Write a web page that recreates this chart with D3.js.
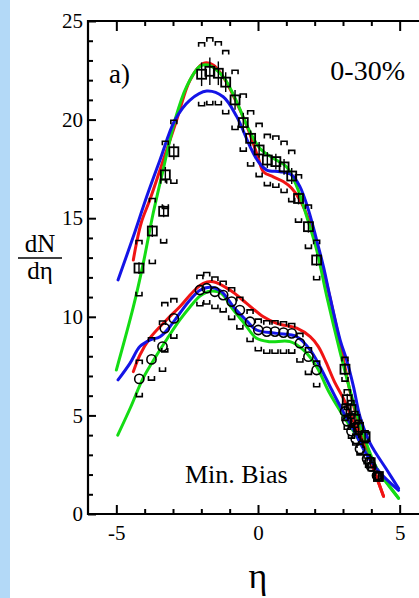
<!DOCTYPE html>
<html>
<head>
<meta charset="utf-8">
<script src="https://cdn.jsdelivr.net/npm/d3@7"></script>
<style>
  body { margin: 0; background: #fff; }
  svg { display: block; }
  svg text { font-family: "Liberation Serif", "Times New Roman", serif; }
</style>
</head>
<body>
<div id="chart"></div>
<script>
// 0-30% data (squares)
const sqX = [-4.2, -3.73, -3.33, -3.27, -2.97, -1.99, -1.70, -1.40, -1.14, -0.81, -0.52, -0.26, 0.04, 0.33, 0.63, 0.92, 1.19, 1.43, 1.78, 2.07, 3.07, 3.15, 3.28, 3.42, 3.55, 3.78, 3.96, 4.25];
const sqY = [12.47, 14.35, 15.35, 17.2, 18.37, 22.3, 22.45, 22.35, 21.9, 21.0, 19.85, 19.05, 18.46, 17.95, 17.87, 17.6, 17.14, 16.0, 14.57, 12.88, 7.34, 5.8, 5.3, 4.8, 4.4, 3.92, 2.6, 1.9];
const sqSys = [1.4, 1.65, 1.6, 1.7, 1.6, 1.6, 1.7, 1.6, 1.6, 1.5, 1.45, 1.4, 1.35, 1.3, 1.3, 1.3, 1.3, 1.2, 1.1, 1.0, 0.6, 0.5, 0.45, 0.4, 0.35, 0.3, 0.25, 0.2];
const sqStat = [0.3, 0.3, 0.3, 0.4, 0.4, 0.6, 0.7, 0.6, 0.5, 0.5, 0.5, 0.4, 0.4, 0.4, 0.4, 0.4, 0.4, 0.3, 0.3, 0.3, 0.3, 0.3, 0.3, 0.3, 0.3, 0.2, 0.2, 0.2];

// Min. Bias data (circles)
const mbX = [-4.19, -3.76, -3.37, -3.29, -2.97, -2.05, -1.81, -1.52, -1.23, -0.93, -0.64, -0.28, 0.01, 0.31, 0.6, 0.9, 1.19, 1.48, 1.78, 2.07, 3.07, 3.15, 3.3, 3.45, 3.6, 3.85, 4.0, 4.2];
const mbY = [6.85, 7.84, 8.49, 9.42, 9.92, 11.36, 11.45, 11.27, 11.1, 10.77, 10.34, 9.75, 9.33, 9.25, 9.25, 9.2, 9.16, 8.66, 7.98, 7.3, 5.2, 4.7, 4.2, 3.8, 3.3, 2.8, 2.4, 1.95];
const mbHi = [0.95, 1.1, 1.3, 1.3, 1.0, 0.75, 0.8, 0.75, 0.7, 0.7, 0.65, 0.6, 0.55, 0.55, 0.55, 0.55, 0.5, 0.5, 0.45, 0.45, 0.35, 0.3, 0.3, 0.25, 0.25, 0.2, 0.2, 0.15];
const mbLo = [0.9, 1.05, 1.25, 1.2, 1.0, 0.8, 0.8, 0.85, 0.85, 0.9, 0.95, 1.0, 1.05, 1.1, 1.1, 1.05, 1.0, 0.95, 0.9, 0.85, 0.45, 0.4, 0.35, 0.3, 0.3, 0.25, 0.2, 0.2];

// model curves, 0-30%
const red30X = [-4.4, -4.29, -4.11, -3.82, -3.46, -2.87, -2.4, -1.93, -1.58, -1.2, -0.8, -0.4, 0.0, 0.19, 0.54, 0.89, 1.19, 1.48, 1.84, 2.19, 2.6, 2.95, 3.3, 3.7, 4.1, 4.43];
const red30Y = [12.88, 13.73, 14.82, 15.92, 17.44, 19.98, 22.0, 22.85, 22.77, 22.1, 21.0, 19.7, 18.1, 17.36, 17.1, 16.86, 16.52, 15.92, 14.74, 13.05, 10.6, 8.3, 5.9, 3.9, 2.2, 0.9];
const green30X = [-5.0, -4.4, -4.05, -3.7, -3.35, -2.93, -2.52, -2.05, -1.76, -1.23, -0.75, -0.4, 0.07, 0.54, 1.01, 1.37, 1.72, 2.07, 2.43, 2.9, 3.3, 3.7, 4.2, 4.96];
const green30Y = [7.3, 10.5, 12.71, 15.25, 17.44, 19.98, 21.67, 22.7, 22.77, 22.18, 20.9, 19.73, 18.54, 18.04, 17.6, 16.6, 15.08, 13.39, 11.02, 8.2, 6.0, 4.1, 2.3, 0.8];
const blue30X = [-4.94, -4.4, -3.93, -3.46, -2.93, -2.4, -1.81, -1.23, -0.75, -0.28, 0.01, 0.31, 0.78, 1.19, 1.48, 1.78, 2.07, 2.31, 2.54, 2.9, 3.13, 3.37, 3.6, 3.96, 4.55, 4.96];
const blue30Y = [11.87, 14.07, 16.09, 17.95, 19.98, 20.99, 21.45, 21.16, 20.15, 18.63, 17.87, 17.44, 17.36, 17.19, 16.6, 15.42, 13.89, 12.54, 11.02, 8.82, 7.8, 6.46, 4.93, 3.58, 2.23, 1.3];

// model curves, Min. Bias
const redMbX = [-4.4, -4.17, -3.82, -3.23, -2.76, -2.29, -1.93, -1.58, -0.99, -0.4, 0.19, 0.66, 1.37, 1.84, 2.13, 2.4, 2.7, 3.0, 3.4, 3.8, 4.1, 4.43];
const redMbY = [7.22, 8.06, 8.91, 9.84, 10.51, 11.27, 11.7, 11.78, 11.36, 10.68, 10.0, 9.67, 9.42, 8.99, 8.49, 7.7, 6.7, 5.9, 4.6, 3.3, 2.2, 0.9];
const greenMbX = [-4.95, -4.5, -4.05, -3.6, -3.2, -2.76, -2.4, -2.05, -1.7, -1.3, -0.9, -0.5, -0.05, 0.42, 1.13, 1.6, 2.07, 2.5, 3.0, 3.5, 4.0, 4.5, 4.96];
const greenMbY = [4.0, 5.4, 6.9, 8.0, 8.9, 9.84, 10.5, 11.05, 11.3, 11.2, 10.4, 9.7, 8.91, 8.74, 8.74, 8.32, 7.47, 6.2, 5.0, 3.9, 2.7, 1.7, 0.8];
const blueMbX = [-4.94, -4.52, -4.17, -3.82, -3.46, -3.11, -2.76, -2.4, -2.05, -1.7, -1.3, -0.87, -0.4, -0.05, 0.66, 1.37, 1.84, 2.19, 2.6, 3.0, 3.4, 3.8, 4.3, 4.96];
const blueMbY = [6.8, 7.64, 8.49, 8.82, 8.99, 9.5, 10.18, 10.85, 11.35, 11.5, 11.3, 10.51, 9.8, 9.33, 9.16, 8.99, 8.32, 7.47, 6.3, 5.2, 4.2, 3.1, 2.1, 1.2];

const width = 419;
const height = 598;
const marginLeft = 88;
const marginTop = 21;
const plotBottom = 514;
const plotRight = 428;   // frame continues past the picture edge

const x = d3.scaleLinear().domain([-6, 6]).range([marginLeft, plotRight]);
const y = d3.scaleLinear().domain([0, 25]).range([plotBottom, marginTop]);

const serif = "Liberation Serif, Times New Roman, serif";

const svg = d3.select("#chart")
  .append("svg")
    .attr("width", width)
    .attr("height", height)
    .attr("viewBox", [0, 0, width, height]);

// light blue strip at the left
svg.append("rect")
    .attr("x", 0).attr("y", 0)
    .attr("width", 10).attr("height", height)
    .attr("fill", "#b3d9f7");

// curves
const curves = [
  [red30X, red30Y, "#f01414"],
  [redMbX, redMbY, "#f01414"],
  [green30X, green30Y, "#14dc14"],
  [greenMbX, greenMbY, "#14dc14"],
  [blue30X, blue30Y, "#1414e6"],
  [blueMbX, blueMbY, "#1414e6"]
];

const line = d3.line()
    .x(d => x(d[0]))
    .y(d => y(d[1]))
    .curve(d3.curveCatmullRom.alpha(0.5));

svg.append("g")
    .attr("fill", "none")
    .attr("stroke-width", 3)
    .attr("stroke-linecap", "round")
  .selectAll("path")
  .data(curves)
  .join("path")
    .attr("stroke", d => d[2])
    .attr("d", d => line(d[0].map((v, i) => [v, d[1][i]])));

// systematic error brackets
const bw = 3, bh = 4;
function capTop(px, py) { return `M${px - bw},${py + bh}V${py}H${px + bw}V${py + bh}`; }
function capBot(px, py) { return `M${px - bw},${py - bh}V${py}H${px + bw}V${py - bh}`; }

const sqData = sqX.map((v, i) => ({x: v, y: sqY[i], hi: sqSys[i], lo: sqSys[i], stat: sqStat[i]}));
const mbData = mbX.map((v, i) => ({x: v, y: mbY[i], hi: mbHi[i], lo: mbLo[i]}));

const caps = svg.append("g")
    .attr("fill", "none")
    .attr("stroke", "#000")
    .attr("stroke-width", 1.6);

caps.selectAll("path.hi")
  .data(sqData.concat(mbData))
  .join("path")
    .attr("class", "hi")
    .attr("d", d => capTop(x(d.x), y(d.y + d.hi)));

caps.selectAll("path.lo")
  .data(sqData.concat(mbData))
  .join("path")
    .attr("class", "lo")
    .attr("d", d => capBot(x(d.x), y(d.y - d.lo)));

// statistical bars on squares
svg.append("g")
    .attr("stroke", "#000")
    .attr("stroke-width", 1.4)
  .selectAll("line")
  .data(sqData)
  .join("line")
    .attr("x1", d => x(d.x)).attr("x2", d => x(d.x))
    .attr("y1", d => y(d.y + d.stat)).attr("y2", d => y(d.y - d.stat));

// squares
svg.append("g")
    .attr("fill", "none")
    .attr("stroke", "#000")
    .attr("stroke-width", 1.8)
  .selectAll("rect")
  .data(sqData)
  .join("rect")
    .attr("x", d => x(d.x) - 4.5)
    .attr("y", d => y(d.y) - 4.5)
    .attr("width", 9)
    .attr("height", 9);

// circles
svg.append("g")
    .attr("fill", "none")
    .attr("stroke", "#000")
    .attr("stroke-width", 1.6)
  .selectAll("circle")
  .data(mbData)
  .join("circle")
    .attr("cx", d => x(d.x))
    .attr("cy", d => y(d.y))
    .attr("r", 4.6);

// axes (ticks point inward)
const xMajor = [-5, 0, 5];
const xMinor = d3.range(-5, 6).filter(v => v % 5 !== 0);
const yMajor = [0, 5, 10, 15, 20, 25];
const yMinor = d3.range(1, 25).filter(v => v % 5 !== 0);

function styleAxis(g) {
  g.attr("font-family", serif).attr("font-size", 21);
  g.select(".domain").remove();
  g.selectAll(".tick line").attr("stroke", "#000").attr("stroke-width", 2);
  g.selectAll(".tick text").attr("fill", "#000");
}

svg.append("g")
    .attr("transform", `translate(0,${plotBottom})`)
    .call(d3.axisBottom(x).tickValues(xMajor).tickSize(-9).tickPadding(11).tickFormat(d => String(d)))
    .call(styleAxis);
svg.append("g")
    .attr("transform", `translate(0,${plotBottom})`)
    .call(d3.axisBottom(x).tickValues(xMinor).tickSize(-5).tickFormat(""))
    .call(styleAxis);
svg.append("g")
    .attr("transform", `translate(0,${marginTop})`)
    .call(d3.axisTop(x).tickValues(xMajor).tickSize(-10).tickFormat(""))
    .call(styleAxis);
svg.append("g")
    .attr("transform", `translate(0,${marginTop})`)
    .call(d3.axisTop(x).tickValues(xMinor).tickSize(-5).tickFormat(""))
    .call(styleAxis);
svg.append("g")
    .attr("transform", `translate(${marginLeft},0)`)
    .call(d3.axisLeft(y).tickValues(yMajor).tickSize(-8).tickPadding(5).tickFormat(d => String(d)))
    .call(styleAxis);
svg.append("g")
    .attr("transform", `translate(${marginLeft},0)`)
    .call(d3.axisLeft(y).tickValues(yMinor).tickSize(-5).tickFormat(""))
    .call(styleAxis);

// frame
svg.append("path")
    .attr("fill", "none")
    .attr("stroke", "#000")
    .attr("stroke-width", 2.2)
    .attr("d", `M${plotRight},${marginTop}H${marginLeft}V${plotBottom}H${plotRight}`);

// texts
const labels = svg.append("g").attr("font-family", serif).attr("fill", "#000");

labels.append("text")
    .attr("x", 109).attr("y", 83)
    .attr("font-size", 27)
    .text("a)");

labels.append("text")
    .attr("x", 405).attr("y", 80)
    .attr("text-anchor", "end")
    .attr("font-size", 28)
    .text("0-30%");

labels.append("text")
    .attr("x", 185).attr("y", 483)
    .attr("font-size", 26)
    .text("Min. Bias");

labels.append("text")
    .attr("x", 40).attr("y", 252)
    .attr("text-anchor", "middle")
    .attr("font-size", 25)
    .text("dN");
labels.append("line")
    .attr("x1", 18).attr("x2", 62)
    .attr("y1", 258).attr("y2", 258)
    .attr("stroke", "#000")
    .attr("stroke-width", 1.5);
labels.append("text")
    .attr("x", 40).attr("y", 279)
    .attr("text-anchor", "middle")
    .attr("font-size", 25)
    .text("dη");

labels.append("text")
    .attr("x", 258).attr("y", 588)
    .attr("text-anchor", "middle")
    .attr("font-size", 36)
    .text("η");
</script>
</body>
</html>
